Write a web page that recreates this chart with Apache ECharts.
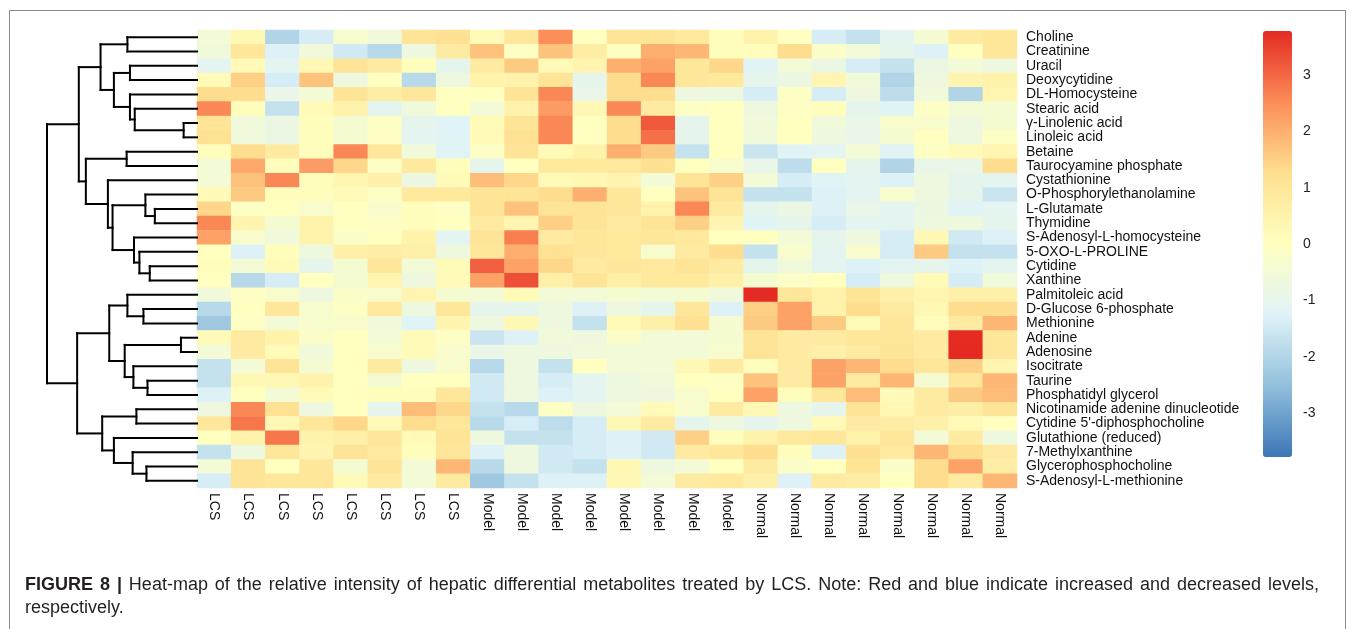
<!DOCTYPE html>
<html>
<head>
<meta charset="utf-8">
<script src="https://cdn.jsdelivr.net/npm/echarts@6/dist/echarts.min.js"></script>
<style>
  html, body { margin: 0; padding: 0; background: #fff; }
  #chart { width: 1357px; height: 629px; }
</style>
</head>
<body>
<div id="chart"></div>
<script>
(function () {
  const FONT = "'Liberation Sans', Arial, sans-serif"

  const colLabels = [
    'LCS', 'LCS', 'LCS', 'LCS', 'LCS', 'LCS', 'LCS', 'LCS',
    'Model', 'Model', 'Model', 'Model', 'Model', 'Model', 'Model', 'Model',
    'Normal', 'Normal', 'Normal', 'Normal', 'Normal', 'Normal', 'Normal', 'Normal'
  ]

  const rowNames = [
    'Choline', 'Creatinine', 'Uracil', 'Deoxycytidine', 'DL-Homocysteine', 'Stearic acid',
    'γ-Linolenic acid', 'Linoleic acid', 'Betaine', 'Taurocyamine phosphate', 'Cystathionine',
    'O-Phosphorylethanolamine', 'L-Glutamate', 'Thymidine', 'S-Adenosyl-L-homocysteine',
    '5-OXO-L-PROLINE', 'Cytidine', 'Xanthine', 'Palmitoleic acid', 'D-Glucose 6-phosphate',
    'Methionine', 'Adenine', 'Adenosine', 'Isocitrate', 'Taurine', 'Phosphatidyl glycerol',
    'Nicotinamide adenine dinucleotide', "Cytidine 5'-diphosphocholine", 'Glutathione (reduced)',
    '7-Methylxanthine', 'Glycerophosphocholine', 'S-Adenosyl-L-methionine'
  ]

  // z-scores, one row per metabolite, columns in colLabels order
  const values = [
    [-0.5, 0.3, -2.0, -1.4, -0.3, -0.6, 1.1, 1.2, 0.2, 1.0, 2.5, 0.0, 1.1, 1.1, 0.9, 0.1, 0.5, 0.0, -1.4, -1.7, -1.1, -0.4, 0.8, 1.0],
    [-0.6, 1.0, -1.3, -0.6, -1.5, -1.9, -0.7, 0.8, 1.7, -0.1, 1.7, 0.7, 0.0, 2.0, 1.9, 0.1, 0.1, 1.3, -0.2, -0.5, -1.0, -1.3, 0.0, 1.0],
    [-1.1, 0.2, -1.1, 0.3, 1.1, 0.8, 0.1, -1.0, 0.8, 1.6, 0.2, 0.4, 2.0, 2.2, 1.0, 1.4, -1.2, -0.5, -0.8, -1.4, -1.7, -0.8, -0.5, -0.7],
    [0.2, 1.5, -1.4, 1.7, -0.7, 0.0, -1.9, -0.7, 0.5, 0.5, 1.1, -1.0, 1.3, 2.6, 1.0, 0.9, -1.0, -0.8, 0.4, -0.6, -2.0, -0.7, 0.4, 0.5],
    [1.3, 1.3, -0.9, -0.5, 1.1, 0.7, 1.0, 0.0, 0.0, 1.1, 2.6, -0.9, 1.3, 1.3, -0.7, -0.7, -1.4, -0.1, -1.4, -0.7, -1.8, -0.6, -2.0, 0.4],
    [2.6, 0.1, -1.7, 0.2, 0.5, -1.1, -0.6, 0.0, -0.5, 0.5, 2.3, 0.3, 2.6, 0.8, -0.1, 0.0, -0.7, -0.1, 0.1, -1.0, -1.2, -0.1, -0.5, -0.4],
    [1.1, -0.6, -0.8, 0.1, -0.4, -0.1, -1.0, -1.2, 0.2, 1.1, 2.6, 0.0, 1.3, 3.2, -1.0, 0.0, -0.6, 0.0, -0.6, -0.9, -0.3, -0.3, -0.7, -0.4],
    [1.2, -0.6, -0.8, 0.1, -0.4, -0.1, -1.1, -1.2, 0.2, 1.2, 2.6, 0.0, 1.3, 2.9, -1.0, 0.0, -0.6, 0.0, -0.7, -0.9, -0.4, 0.0, -0.7, -0.1],
    [0.1, 1.3, 0.8, 0.1, 2.6, 1.0, -0.6, -1.2, -0.1, 1.1, 0.2, 0.5, 2.0, 1.6, -1.7, 0.0, -1.6, -1.2, -1.1, -0.5, -1.2, -0.1, 0.2, 0.4],
    [-0.5, 2.1, 0.1, 2.3, 1.4, -0.1, 0.9, 0.1, -1.0, 0.0, 0.9, 0.9, 0.9, 1.2, 0.0, -0.3, -0.9, -1.8, 0.0, -1.0, -2.0, -0.9, -0.9, 1.3],
    [-0.5, 1.7, 2.6, 0.1, 0.4, 0.6, -0.8, 0.2, 1.8, 1.4, 0.2, 0.3, 0.4, -0.5, 1.1, 1.5, -0.5, -1.4, -1.2, -1.1, -1.3, -0.7, -1.0, -1.1],
    [0.2, 1.6, 0.1, 0.1, 0.2, -0.1, 0.9, 0.9, 1.1, 1.1, 1.3, 2.0, 1.0, 0.0, 1.7, 1.1, -1.7, -1.7, -1.3, -1.1, -0.3, -0.7, -1.0, -1.6],
    [1.4, -0.1, 0.0, -0.3, 0.0, -0.3, 0.1, -0.1, 1.1, 1.7, 1.1, 1.1, 1.0, 0.5, 2.6, 0.8, -1.0, -0.8, -1.3, -0.9, -1.1, -0.8, -1.2, -1.1],
    [2.6, 0.4, -0.4, 0.5, 0.0, -0.1, 0.1, 0.0, 0.8, 0.4, 1.5, 1.1, 0.8, 1.1, 1.5, 0.4, -1.2, -1.0, -1.4, -1.1, -1.1, -0.7, -0.7, -1.0],
    [2.2, -0.3, -0.6, 0.5, -0.2, 0.0, 0.5, -1.1, 1.1, 2.7, 0.8, 1.0, 0.9, 1.0, 0.9, 0.0, 0.0, -0.5, -1.0, -0.7, -1.4, 0.3, -1.5, -1.3],
    [0.0, -1.3, 0.1, -0.7, 0.6, 0.7, 0.6, -0.7, 1.0, 2.0, 1.2, 1.0, 0.9, -0.3, 0.8, 1.3, -1.7, -0.3, -1.1, -0.3, -1.4, 1.6, -1.7, -1.7],
    [0.1, -0.5, 0.2, -1.0, -0.4, 1.0, -0.5, 0.2, 3.1, 2.2, 1.4, 0.8, 1.0, 0.9, 1.1, 0.8, -1.0, -0.6, -1.1, -1.3, -1.1, -1.0, -1.3, -1.1],
    [0.0, -1.9, -1.4, 0.0, -0.4, 0.4, -0.7, 0.2, 2.2, 3.3, 0.6, 1.1, 0.6, 0.9, 0.9, 0.6, -0.4, -0.2, 0.0, -1.4, -0.7, 0.2, -1.4, -0.6],
    [-0.6, -0.1, -0.3, -0.7, -0.2, -0.3, 0.4, -0.4, -0.5, 0.2, -0.5, -0.5, -0.4, -0.5, -0.4, -0.6, 3.78, 1.0, 0.5, 1.1, 0.6, 0.4, 0.6, 0.6],
    [-1.9, 0.0, 1.0, -0.3, -0.1, 0.9, -0.7, 1.0, -1.0, -1.0, -0.7, -1.3, -0.7, -1.0, 1.0, -1.3, 1.5, 2.2, 0.5, 1.3, 0.8, 0.3, 1.3, 1.3],
    [-2.3, -0.1, -0.5, -0.3, -0.3, -0.6, -1.2, 0.4, -0.7, 0.3, -0.7, -1.7, 0.2, 0.6, 1.2, -0.4, 1.6, 2.2, 1.6, 0.2, 1.0, 0.1, 0.8, 1.9],
    [0.2, 0.8, 0.5, -0.2, 0.0, -0.5, 0.2, -0.1, -1.6, -1.3, -0.6, -0.7, -0.2, -0.5, -0.5, -0.4, 1.1, 0.8, 0.8, 1.0, 1.0, 0.8, 3.75, 1.0],
    [-0.5, 0.8, 0.2, -0.6, 0.0, -0.3, 0.2, -0.3, -0.9, -0.7, -0.7, -0.6, -0.5, -0.5, -0.5, -0.3, 1.1, 0.8, 0.6, 0.8, 1.1, 0.8, 3.78, 1.0],
    [-1.7, -0.5, 1.1, -0.4, 0.0, 0.8, -0.7, -0.3, -1.9, -0.7, -1.7, 0.0, -0.5, -0.5, 0.3, 0.8, 0.1, 0.8, 2.2, 1.9, 1.3, 1.0, 1.5, 0.4],
    [-1.7, 0.3, 0.3, 0.5, 0.0, -0.4, 0.0, 0.0, -1.5, -0.7, -1.4, -1.1, -0.7, -0.6, 0.0, -0.1, 1.7, 0.8, 2.2, 0.8, 1.9, -0.4, 1.0, 1.9],
    [-1.3, 0.0, -0.5, 0.2, 0.0, 0.1, 0.1, 1.0, -1.5, -0.7, -1.3, -1.1, -0.7, -0.7, -0.3, 0.0, 2.2, 0.1, 1.0, 1.8, 0.2, 0.8, 1.6, 1.8],
    [-0.7, 2.6, 1.2, -0.7, 0.0, -1.0, 1.8, 1.4, -1.7, -1.9, -0.1, -0.7, -0.5, 0.2, -0.3, 0.8, 0.3, -0.7, -1.0, 1.1, 0.3, 0.8, 0.7, 1.1],
    [1.0, 2.8, 0.3, 1.0, 1.4, 0.2, 1.3, 1.0, -1.9, -1.4, -1.8, -1.4, 0.3, 0.8, -1.0, -0.7, -1.0, -0.7, 0.2, 0.8, 0.7, 0.6, 0.2, 0.0],
    [0.0, 0.5, 2.8, 0.5, 0.6, 1.0, 0.2, 1.1, -0.7, -1.7, -1.7, -1.4, -1.3, -1.5, 1.5, 0.1, 0.5, 0.9, 1.0, 0.5, 1.0, -0.5, 0.8, -0.7],
    [-1.7, -0.7, 1.0, 0.4, 1.1, 0.8, 0.1, 1.0, -1.3, -0.7, -1.5, -1.4, -1.3, -1.5, 0.8, 1.0, 1.3, 0.1, -1.3, 1.2, 0.8, 1.9, 1.3, 0.8],
    [-0.5, 1.1, 0.0, 1.0, -0.4, 1.1, -0.5, 1.9, -1.9, -0.7, -1.5, -1.7, 0.3, -0.7, -0.5, 0.0, 0.8, -0.2, 0.0, 1.1, -0.2, 1.3, 2.2, 0.7],
    [-1.4, 1.1, 1.0, 1.0, 0.2, 0.8, -0.5, 0.8, -2.3, -1.7, -1.3, -1.3, 0.3, -0.5, 0.8, 0.9, 0.6, -1.3, 0.8, 0.7, 0.0, 1.3, 0.8, 1.9]
  ]

  // row clustering: [left, right, height], leaves are row indexes
  const rowTree = [
    [
      [[0, 1, 4.64], [[2, 3, 4.47], [4, [5, [6, 7, 0.89], 4.15], 4.47], 5.54], 6.43],
      [[8, 9, 4.69], [10, [[11, [12, 13, 2.81], 3.44], [14, [15, [16, 17, 3.15], 3.84], 4.20], 5.63], 5.94], 7.41],
      7.88
    ],
    [
      [[18, [19, 20, 3.57], 4.64], [[21, 22, 1.07], [23, [24, 25, 3.30], 4.24], 4.82], 5.85],
      [[26, 27, 4.04], [28, [29, [30, 31, 3.37], 4.29], 5.54], 6.32],
      7.99
    ],
    10
  ]

  const legendTicks = [-3, -2, -1, 0, 1, 2, 3]
  const valueMin = -3.78
  const valueMax = 3.78
  const palette = ['#3d76b6', '#91bfdb', '#e0f3f8', '#ffffbf', '#fee090', '#fc8d59', '#e42a22']

  const captionBold = 'FIGURE 8 |'
  const captionLine1 = 'Heat-map of the relative intensity of hepatic differential metabolites treated by LCS. Note: Red and blue indicate increased and decreased levels,'
  const captionLine2 = 'respectively.'

  const CAPTION_SIZE = 18
  const CAPTION_LEFT = 25
  const CAPTION_RIGHT = 1319
  const CAPTION_COLOR = '#231f20'

  function buildSegments(node, segs) {
    if (typeof node === 'number') {
      return { y: node, h: 0 }
    }
    const [a, b, h] = node
    const left = buildSegments(a, segs)
    const right = buildSegments(b, segs)
    segs.push([left.h, left.y, h, left.y])
    segs.push([right.h, right.y, h, right.y])
    segs.push([h, left.y, h, right.y])
    return { y: (left.y + right.y) / 2, h }
  }

  // justified first caption line, like the journal layout
  function justifiedWords(top) {
    const ctx = document.createElement('canvas').getContext('2d')
    const words = captionBold.split(' ').map((w) => ({ w, bold: true }))
      .concat(captionLine1.split(' ').map((w) => ({ w, bold: false })))
    let total = 0
    words.forEach((item) => {
      ctx.font = (item.bold ? 'bold ' : '') + CAPTION_SIZE + 'px ' + FONT
      item.width = ctx.measureText(item.w).width
      total += item.width
    })
    const gap = (CAPTION_RIGHT - CAPTION_LEFT - total) / (words.length - 1)
    let x = CAPTION_LEFT
    return words.map((item) => {
      const el = {
        type: 'text',
        x: x,
        y: top,
        style: {
          text: item.w,
          fontFamily: FONT,
          fontSize: CAPTION_SIZE,
          fontWeight: item.bold ? 'bold' : 'normal',
          fill: CAPTION_COLOR
        }
      }
      x += item.width + gap
      return el
    })
  }

  const heatData = []
  values.forEach((row, r) => {
    row.forEach((v, c) => heatData.push([c, r, v]))
  })

  const treeSegments = []
  buildSegments(rowTree, treeSegments)

  const chart = echarts.init(document.getElementById('chart'), null, { renderer: 'canvas' })

  chart.setOption({
    backgroundColor: '#fff',
    animation: false,
    textStyle: { fontFamily: FONT },
    grid: [
      { left: 197, top: 30, width: 820, height: 458 },
      { left: 47, top: 30, width: 150, height: 458 },
      { left: 1263, top: 31, width: 29, height: 426 }
    ],
    xAxis: [
      {
        type: 'category',
        gridIndex: 0,
        data: colLabels,
        axisLine: { show: false },
        axisTick: { show: false },
        axisLabel: { interval: 0, rotate: -90, margin: 5, fontSize: 14, color: '#111', fontFamily: FONT }
      },
      { type: 'value', gridIndex: 1, min: 0, max: 10, inverse: true, show: false },
      { type: 'value', gridIndex: 2, min: 0, max: 1, show: false }
    ],
    yAxis: [
      {
        type: 'category',
        gridIndex: 0,
        data: rowNames,
        inverse: true,
        position: 'right',
        axisLine: { show: false },
        axisTick: { show: false },
        axisLabel: { interval: 0, margin: 9, fontSize: 14, color: '#111', fontFamily: FONT }
      },
      { type: 'value', gridIndex: 1, min: -0.5, max: rowNames.length - 0.5, inverse: true, show: false },
      {
        type: 'value',
        gridIndex: 2,
        min: valueMin,
        max: valueMax,
        position: 'right',
        axisLine: { show: false },
        axisTick: { show: false },
        splitLine: { show: false },
        axisLabel: { customValues: legendTicks, margin: 11, fontSize: 14, color: '#222', fontFamily: FONT }
      }
    ],
    visualMap: {
      type: 'continuous',
      min: valueMin,
      max: valueMax,
      seriesIndex: 0,
      calculable: false,
      hoverLink: false,
      left: 1263,
      top: 31,
      padding: 0,
      itemWidth: 29,
      itemHeight: 426,
      inRange: { color: palette }
    },
    series: [
      {
        type: 'heatmap',
        xAxisIndex: 0,
        yAxisIndex: 0,
        data: heatData,
        itemStyle: { borderWidth: 0 }
      },
      {
        type: 'custom',
        xAxisIndex: 1,
        yAxisIndex: 1,
        data: treeSegments,
        encode: { x: [0, 2], y: [1, 3] },
        renderItem: (params, api) => {
          const p1 = api.coord([api.value(0), api.value(1)])
          const p2 = api.coord([api.value(2), api.value(3)])
          return {
            type: 'line',
            shape: { x1: p1[0], y1: p1[1], x2: p2[0], y2: p2[1] },
            style: { stroke: '#000', lineWidth: 2, lineCap: 'square' }
          }
        }
      }
    ],
    graphic: [
      {
        type: 'rect',
        silent: true,
        z: -10,
        shape: { x: 9.5, y: 10.5, width: 1336, height: 700 },
        style: { fill: 'none', stroke: '#8a8a8a', lineWidth: 1 }
      },
      ...justifiedWords(576),
      {
        type: 'text',
        x: CAPTION_LEFT,
        y: 599,
        style: {
          text: captionLine2,
          fontFamily: FONT,
          fontSize: CAPTION_SIZE,
          fill: CAPTION_COLOR
        }
      }
    ]
  })

  window.addEventListener('resize', () => chart.resize())
})()
</script>
</body>
</html>
